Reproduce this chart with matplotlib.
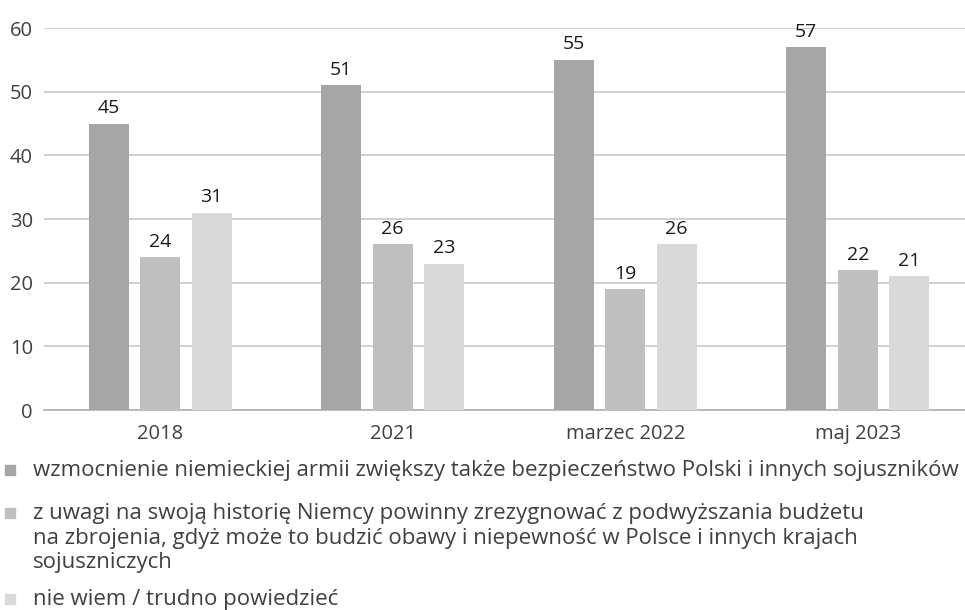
import matplotlib
matplotlib.use("Agg")
import matplotlib.pyplot as plt
import numpy as np

categories = ["2018", "2021", "marzec 2022", "maj 2023"]
s1 = [45, 51, 55, 57]
s2 = [24, 26, 19, 22]
s3 = [31, 23, 26, 21]
series_names = [
    "wzmocnienie niemieckiej armii zwiększy także bezpieczeństwo Polski i innych sojuszników",
    "z uwagi na swoją historię Niemcy powinny zrezygnować z podwyższania budżetu\nna zbrojenia, gdyż może to budzić obawy i niepewność w Polsce i innych krajach\nsojuszniczych",
    "nie wiem / trudno powiedzieć",
]
colors = ["#a6a6a6", "#bfbfbf", "#d9d9d9"]
yticks = [0, 10, 20, 30, 40, 50, 60]

plt.rcParams['font.family'] = ['Open Sans', 'DejaVu Sans']

W, H = 965, 610
fig = plt.figure(figsize=(W / 100, H / 100), dpi=100)
left_px, right_px, top_px, bot_px = 44, 974, 28, 410
ax = fig.add_axes([left_px / W, (H - bot_px) / H, (right_px - left_px) / W, (bot_px - top_px) / H])

x = np.arange(len(categories))
bw = 0.172
off = 0.221
for i, (vals, c) in enumerate(zip([s1, s2, s3], colors)):
    xs = x + (i - 1) * off
    ax.bar(xs, vals, width=bw, color=c, zorder=3)
    for xi, v in zip(xs, vals):
        ax.text(xi, v + 1.0, str(v), ha="center", va="bottom", fontsize=14,
                color="#1a1a1a", zorder=4)

ax.set_xlim(-0.5, 3.5)
ax.set_ylim(0, 60)
ax.set_yticks(yticks)
ax.set_xticks(x)
ax.set_xticklabels(categories)
ax.yaxis.grid(True, color="#c8c8c8", linewidth=1.2, zorder=0)
ax.set_axisbelow(True)
for sp in ["top", "right", "left"]:
    ax.spines[sp].set_visible(False)
ax.spines["bottom"].set_color("#b0b0b0")
ax.spines["bottom"].set_linewidth(1.2)
ax.tick_params(axis="both", length=0, labelsize=14.5, labelcolor="#404040")
ax.tick_params(axis="y", pad=8)
ax.tick_params(axis="x", pad=10)

# legend
legend_y = [470, 513, 599]
for name, c, yp in zip(series_names, colors, legend_y):
    fig.patches.append(plt.Rectangle((5 / W, (H - yp - 5) / H), 10 / W, 10 / H,
                                     transform=fig.transFigure, color=c, figure=fig))
    fig.text(33 / W, (H - yp) / H + 0.016, name, ha="left", va="top", fontsize=16,
             color="#404040", linespacing=1.22)

fig.savefig("out.png", dpi=100)
